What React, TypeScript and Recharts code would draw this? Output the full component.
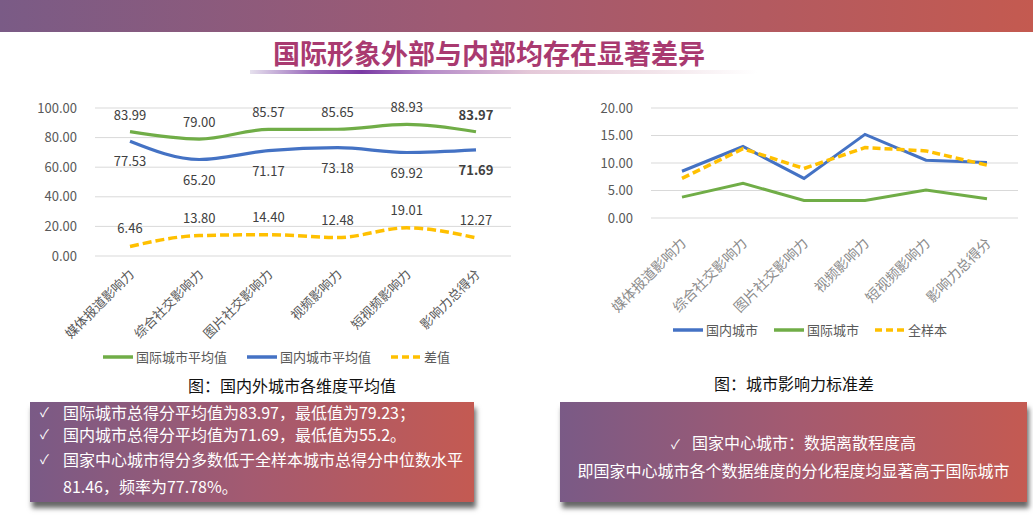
import { LineChart, Line, XAxis, YAxis, CartesianGrid, Legend } from "recharts";

const FONT = '"Noto Sans CJK SC", "Noto Sans", sans-serif';

const categories = ["媒体报道影响力", "综合社交影响力", "图片社交影响力", "视频影响力", "短视频影响力", "影响力总得分"];

// left chart: averages
const intlAvg = [83.99, 79.0, 85.57, 85.65, 88.93, 83.97];
const domAvg = [77.53, 65.2, 71.17, 73.18, 69.92, 71.69];
const gapAvg = [6.46, 13.8, 14.4, 12.48, 19.01, 12.27];
const avgTicks = [0, 20, 40, 60, 80, 100];

// right chart: standard deviation
const domStd = [8.5, 13.0, 7.2, 15.2, 10.5, 10.1];
const intlStd = [3.8, 6.3, 3.2, 3.2, 5.1, 3.5];
const allStd = [7.2, 12.6, 9.0, 12.8, 12.2, 9.6];
const stdTicks = [0, 5, 10, 15, 20];

const avgData = categories.map((name, i) => ({ name, intl: intlAvg[i], dom: domAvg[i], gap: gapAvg[i] }));
const stdData = categories.map((name, i) => ({ name, dom: domStd[i], intl: intlStd[i], all: allStd[i] }));

const GREEN = "#70ad47";
const BLUE = "#4472c4";
const YELLOW = "#ffc000";
const dashedKeys = ["gap", "all"];

// boldLast: the total-score label is bold for the two city series only
const makeLabel = (dir: "top" | "bottom", off: number, boldLast: boolean) => (props: any) => {
  const { x, y, value, index } = props;
  const bold = boldLast && index === categories.length - 1;
  return (
    <text
      x={x}
      y={dir === "top" ? y - off : y + off}
      textAnchor="middle"
      fontSize={13}
      fontFamily={FONT}
      fontWeight={bold ? 700 : 400}
      fill="#404040"
    >
      {Number(value).toFixed(2)}
    </text>
  );
};

const AngleTick = (shiftX: number, shiftY: number, size: number, color: string) => (props: any) => {
  const { x, y, payload } = props;
  const ax = x + shiftX;
  const ay = y + shiftY;
  return (
    <text
      x={ax}
      y={ay}
      transform={`rotate(-45 ${ax} ${ay})`}
      textAnchor="end"
      fontSize={size}
      fontFamily={FONT}
      fill={color}
    >
      {payload.value}
    </text>
  );
};

// legend in the series order given (recharts sorts by name otherwise)
const LegendRow = (gap: number, order: string[]) => (props: any) => {
  const items = [...(props.payload || [])].sort(
    (a: any, b: any) => order.indexOf(a.dataKey) - order.indexOf(b.dataKey)
  );
  return (
    <div style={{ display: "flex", alignItems: "center", fontFamily: FONT, fontSize: 13, color: "#595959" }}>
      {items.map((e: any, i: number) => (
        <div key={i} style={{ display: "flex", alignItems: "center", marginRight: gap }}>
          <svg width={30} height={6} style={{ display: "block" }}>
            <line
              x1={0}
              y1={3}
              x2={30}
              y2={3}
              stroke={e.color}
              strokeWidth={3.5}
              strokeDasharray={dashedKeys.includes(e.dataKey) ? "7 4" : undefined}
            />
          </svg>
          <span style={{ marginLeft: 3, lineHeight: "18px" }}>{e.value}</span>
        </div>
      ))}
    </div>
  );
};

const yTick = { fill: "#595959", fontSize: 13, fontFamily: FONT };

const boxStyle: React.CSSProperties = {
  position: "absolute",
  top: 402,
  height: 100,
  background: "linear-gradient(90deg, #7a5a86 0%, #a45a70 50%, #c45a52 100%)",
  boxShadow: "2px 6px 5px rgba(0,0,0,0.6)",
  color: "#fff",
  fontFamily: FONT,
  fontSize: 16,
};

const line = (top: number, text: string, check: boolean) => (
  <>
    {check && <div style={{ position: "absolute", left: 10, top, fontSize: 13, lineHeight: "16px" }}>✓</div>}
    <div style={{ position: "absolute", left: 33, top, lineHeight: "16px", whiteSpace: "nowrap" }}>{text}</div>
  </>
);

export default function App() {
  return (
    <div style={{ position: "absolute", left: 0, top: 0, width: 1033, height: 515, background: "#fff", overflow: "hidden", fontFamily: FONT }}>
      <div
        style={{
          position: "absolute",
          left: 0,
          top: 0,
          width: 1033,
          height: 32,
          background: "linear-gradient(90deg, #7a5b86 0%, #a05a72 45%, #c45a50 100%)",
        }}
      />
      <div
        style={{
          position: "absolute",
          left: 273,
          top: 38,
          width: 432,
          fontSize: 27,
          lineHeight: "30px",
          fontWeight: 700,
          color: "#a93a70",
          whiteSpace: "nowrap",
        }}
      >
        国际形象外部与内部均存在显著差异
      </div>
      <div
        style={{
          position: "absolute",
          left: 250,
          top: 70,
          width: 507,
          height: 4,
          background:
            "linear-gradient(90deg, rgba(205,195,220,0.5) 0%, #9b6cbc 12%, #7a3aa4 22%, #b48ac8 35%, #e4c8d8 55%, #f2e4ea 80%, rgba(255,255,255,0) 100%)",
        }}
      />

      <div style={{ position: "absolute", left: 0, top: 90 }}>
        <LineChart width={530} height={290} data={avgData} margin={{ top: 18, right: 19, left: 0, bottom: 0 }}>
          <CartesianGrid vertical={false} stroke="#d9d9d9" />
          <XAxis
            dataKey="name"
            height={124}
            axisLine={false}
            tickLine={false}
            interval={0}
            padding={{ left: 35, right: 35 }}
            tick={AngleTick(5, 11, 13, "#595959")}
          />
          <YAxis
            width={95}
            domain={[0, 100]}
            ticks={avgTicks}
            axisLine={false}
            tickLine={false}
            tickMargin={12}
            tick={yTick}
            tickFormatter={(v: number) => v.toFixed(2)}
          />
          <Line type="monotone" dataKey="intl" name="国际城市平均值" stroke={GREEN} strokeWidth={3.2} dot={false} isAnimationActive={false} label={makeLabel("top", 12, true)} />
          <Line type="monotone" dataKey="dom" name="国内城市平均值" stroke={BLUE} strokeWidth={3.2} dot={false} isAnimationActive={false} label={makeLabel("bottom", 25, true)} />
          <Line type="monotone" dataKey="gap" name="差值" stroke={YELLOW} strokeWidth={3.5} strokeDasharray="9 4" dot={false} isAnimationActive={false} label={makeLabel("top", 13, false)} />
          <Legend verticalAlign="middle" content={LegendRow(20, ["intl", "dom", "gap"])} wrapperStyle={{ left: 103, top: 258, width: 400, height: 18 }} />
        </LineChart>
      </div>
      <div style={{ position: "absolute", left: 0, width: 584, top: 375, textAlign: "center", fontSize: 16, lineHeight: "20px", color: "#111" }}>
        图：国内外城市各维度平均值
      </div>

      <div style={{ position: "absolute", left: 560, top: 90 }}>
        <LineChart width={473} height={260} data={stdData} margin={{ top: 18, right: 15, left: 0, bottom: 0 }}>
          <CartesianGrid vertical={false} stroke="#d9d9d9" />
          <XAxis
            dataKey="name"
            height={132}
            axisLine={false}
            tickLine={false}
            interval={0}
            padding={{ left: 31, right: 31 }}
            tick={AngleTick(5, 18, 14, "#8c8c8c")}
          />
          <YAxis
            width={91}
            domain={[0, 20]}
            ticks={stdTicks}
            axisLine={false}
            tickLine={false}
            tickMargin={12}
            tick={yTick}
            tickFormatter={(v: number) => v.toFixed(2)}
          />
          <Line type="linear" dataKey="dom" name="国内城市" stroke={BLUE} strokeWidth={3} dot={false} isAnimationActive={false} />
          <Line type="linear" dataKey="intl" name="国际城市" stroke={GREEN} strokeWidth={3} dot={false} isAnimationActive={false} />
          <Line type="linear" dataKey="all" name="全样本" stroke={YELLOW} strokeWidth={3.5} strokeDasharray="8 4" dot={false} isAnimationActive={false} />
          <Legend verticalAlign="middle" content={LegendRow(16, ["dom", "intl", "all"])} wrapperStyle={{ left: 113, top: 231, width: 340, height: 18 }} />
        </LineChart>
      </div>
      <div style={{ position: "absolute", left: 560, width: 468, top: 373, textAlign: "center", fontSize: 16, lineHeight: "20px", color: "#111" }}>
        图：城市影响力标准差
      </div>

      <div style={{ ...boxStyle, left: 30, width: 444 }}>
        {line(2, "国际城市总得分平均值为83.97，最低值为79.23；", true)}
        {line(24, "国内城市总得分平均值为71.69，最低值为55.2。", true)}
        {line(49, "国家中心城市得分多数低于全样本城市总得分中位数水平", true)}
        {line(76, "81.46，频率为77.78%。", false)}
      </div>

      <div style={{ ...boxStyle, left: 560, width: 467 }}>
        <div style={{ position: "absolute", left: 0, width: 467, top: 30, textAlign: "center", lineHeight: "20px", whiteSpace: "nowrap" }}>
          <span style={{ fontSize: 13, marginRight: 12 }}>✓</span>国家中心城市：数据离散程度高
        </div>
        <div style={{ position: "absolute", left: 0, width: 467, top: 58, textAlign: "center", lineHeight: "20px", whiteSpace: "nowrap" }}>
          即国家中心城市各个数据维度的分化程度均显著高于国际城市
        </div>
      </div>
    </div>
  );
}
